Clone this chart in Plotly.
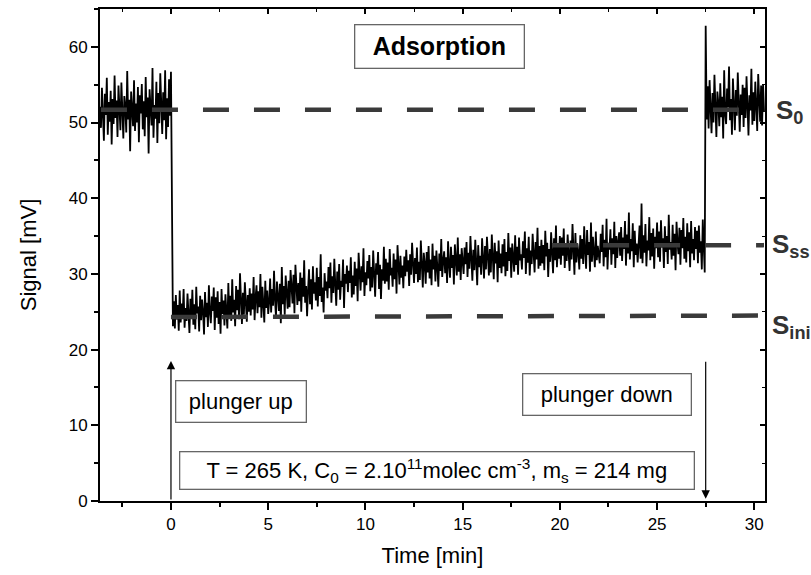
import plotly.graph_objects as go

# ---------------- data ----------------
t_start = -3.65          # min, first sample
dt = 0.05                # min, sampling step

signal_before = [
    52.1, 49.3, 54.6, 50.2, 47.6, 53.8, 51.0, 55.9, 48.4, 52.7, 50.1, 54.2, 47.1, 53.1, 49.8, 56.2, 50.6, 52.9, 48.1, 54.9,
    51.4, 49.0, 55.3, 50.8, 47.9, 53.5, 52.2, 48.7, 56.8, 50.4, 53.0, 46.2, 54.1, 51.7, 49.5, 55.6, 48.9, 52.5, 50.0, 54.7,
    47.4, 53.6, 51.2, 55.1, 49.1, 52.8, 48.2, 56.0, 50.7, 53.3, 45.9, 54.4, 51.9, 49.6, 57.2, 48.0, 52.3, 50.5, 55.4, 47.3,
    53.9, 49.9, 56.5, 51.1, 48.5, 54.0, 50.3, 56.9, 47.8, 53.2, 49.4, 55.7, 50.9, 56.7,
]

signal_exposed = [
    30.6, 23.1, 26.4, 22.8, 27.2, 24.0, 25.9, 22.5, 27.8, 23.6, 26.1, 24.4, 28.0, 22.9, 25.5, 23.8, 27.4, 24.6, 22.2, 26.7,
    24.1, 27.9, 23.3, 26.0, 22.7, 28.3, 24.8, 25.7, 22.4, 27.1, 23.9, 26.6, 25.0, 22.0, 27.6, 24.3, 26.2, 23.0, 28.5, 24.9,
    23.5, 27.0, 25.1, 28.2, 22.6, 26.9, 24.2, 27.7, 23.4, 26.3, 22.1, 28.0, 24.7, 26.5, 23.2, 27.3, 25.4, 22.8, 28.8, 24.5,
    27.1, 23.8, 29.3, 24.9, 26.6, 23.1, 28.4, 25.2, 27.9, 24.0, 30.1, 25.7, 23.4, 27.5, 24.6, 28.9, 25.9, 23.7, 27.2, 25.0,
    28.1, 24.5, 27.4, 25.3, 29.6, 23.9, 26.9, 28.5, 24.8, 27.7, 25.6, 30.0, 24.2, 28.3, 26.1, 23.6, 29.1, 25.5, 27.8, 24.7,
    26.3, 29.4, 24.9, 28.0, 25.8, 30.4, 26.6, 24.3, 29.0, 27.2, 25.1, 28.7, 23.5, 30.9, 26.0, 28.4, 24.6, 29.8, 27.5, 25.4,
    29.1, 25.6, 30.5, 27.3, 26.1, 29.9, 24.8, 31.2, 27.6, 25.9, 28.8, 26.4, 30.2, 25.0, 29.5, 27.0, 31.8, 26.2, 28.4, 24.4,
    27.9, 30.6, 26.0, 29.3, 25.3, 31.0, 27.4, 28.9, 26.5, 30.8, 25.7, 29.6, 27.1, 32.6, 26.3, 28.2, 24.9, 30.1, 27.8, 29.0,
    26.8, 30.9, 28.1, 31.5, 26.2, 29.7, 27.5, 32.0, 28.6, 25.8, 30.3, 27.9, 31.3, 26.6, 29.1, 28.3, 31.9, 25.5, 30.0, 28.7,
    31.1, 27.6, 30.4, 28.8, 32.2, 26.9, 29.8, 27.3, 31.6, 28.4, 30.7, 26.4, 32.8, 29.2, 27.8, 31.0, 28.9, 33.4, 27.1, 30.2,
    28.5, 31.7, 29.4, 32.5, 27.7, 30.9, 28.2, 33.1, 29.6, 27.0, 31.4, 29.9, 32.9, 28.0, 31.2, 26.7, 30.6, 29.1, 33.6, 28.7,
    32.0, 29.0, 31.5, 27.9, 33.3, 29.8, 30.8, 28.3, 32.7, 29.3, 31.9, 27.4, 33.8, 30.1, 28.6, 32.4, 29.5, 31.1, 28.1, 32.3,
    29.7, 33.2, 30.3, 31.8, 28.4, 32.6, 29.9, 34.1, 30.5, 28.8, 32.1, 30.0, 33.5, 28.9, 31.6, 29.2, 34.4, 30.7, 28.2, 32.8,
    31.4, 28.7, 32.9, 30.2, 33.7, 29.4, 31.9, 28.5, 34.0, 30.6, 32.4, 29.0, 33.1, 30.9, 28.3, 32.7, 30.4, 34.6, 29.6, 31.7,
    33.0, 30.1, 32.2, 28.8, 34.3, 31.2, 29.5, 33.6, 30.8, 32.5, 28.6, 33.9, 31.0, 29.8, 34.8, 30.3, 32.6, 29.2, 33.4, 31.5,
    30.0, 33.5, 31.3, 34.2, 29.6, 32.8, 30.7, 35.0, 31.8, 29.1, 33.2, 30.5, 34.5, 31.1, 28.5, 33.8, 30.9, 32.4, 29.9, 34.7,
    31.6, 29.4, 33.7, 30.6, 34.9, 31.9, 29.8, 33.3, 30.2, 35.2, 32.0, 29.3, 34.1, 31.4, 33.0, 28.9, 34.4, 30.8, 32.7, 30.1,
    33.9, 31.0, 34.6, 29.7, 32.9, 30.4, 35.4, 31.7, 33.5, 29.5, 34.0, 32.2, 30.3, 35.1, 31.2, 33.6, 29.9, 34.8, 31.8, 32.6,
    30.6, 34.3, 32.1, 35.6, 30.0, 33.4, 31.5, 34.9, 29.8, 33.1, 31.3, 35.3, 32.5, 30.2, 34.2, 31.9, 36.1, 30.7, 33.7, 31.1,
    34.5, 31.4, 33.8, 30.5, 35.7, 32.3, 34.1, 29.6, 33.3, 31.6, 35.5, 32.8, 30.1, 34.7, 31.8, 36.4, 30.9, 33.6, 32.0, 35.0,
    31.2, 34.8, 32.4, 36.0, 30.8, 33.9, 31.7, 35.2, 32.7, 30.4, 34.4, 31.9, 36.6, 32.2, 29.9, 35.4, 31.5, 34.0, 32.9, 30.6,
    35.1, 32.0, 34.6, 31.3, 36.3, 33.0, 30.7, 35.8, 32.5, 34.2, 30.3, 36.8, 31.6, 34.9, 32.8, 30.9, 35.6, 31.8, 33.7, 32.3,
    31.4, 35.3, 32.9, 36.5, 31.0, 34.5, 32.2, 37.3, 30.6, 34.1, 33.2, 35.9, 31.2, 34.7, 32.6, 36.9, 30.8, 35.0, 32.1, 34.3,
    35.5, 32.4, 36.2, 31.7, 34.8, 33.3, 37.0, 31.1, 35.2, 32.7, 38.1, 31.9, 34.6, 33.0, 36.7, 30.9, 35.7, 32.5, 34.0, 31.5,
    33.6, 36.4, 32.0, 39.3, 31.4, 35.1, 32.8, 36.6, 31.0, 34.4, 33.1, 37.5, 31.8, 35.4, 32.3, 36.0, 30.7, 34.9, 33.4, 36.8,
    32.2, 35.6, 31.6, 37.1, 33.5, 34.7, 30.8, 36.3, 32.9, 35.0, 31.3, 37.8, 33.2, 34.2, 31.9, 36.5, 32.4, 35.3, 30.5, 36.9,
    34.1, 32.6, 36.1, 31.2, 35.8, 33.4, 37.4, 32.0, 34.9, 31.5, 36.7, 33.0, 35.5, 30.9, 37.0, 32.7, 34.6, 31.8, 36.2, 33.3,
    35.7, 31.4, 36.4, 32.8, 34.3, 30.6, 37.2, 33.1, 30.2, 62.8,
]

signal_after = [
    50.4, 54.8, 49.2, 55.6, 51.3, 48.6, 53.9, 50.0, 56.3, 51.8, 48.1, 54.1, 52.6, 49.5, 55.2, 50.7, 53.4, 47.9, 56.9, 51.1,
    49.8, 54.5, 52.0, 57.4, 50.3, 53.1, 48.4, 55.8, 51.5, 49.0, 54.3, 50.9, 56.6, 52.4, 48.8, 53.7, 51.0, 55.0, 49.4, 54.6,
    50.6, 56.1, 52.8, 48.3, 53.6, 51.6, 57.1, 49.7, 54.0, 50.2, 55.4, 51.9, 48.9, 56.4, 52.7, 50.1, 54.9, 49.6, 55.1, 51.4,
]

signal = signal_before + signal_exposed + signal_after
time = [round(t_start + dt * i, 3) for i in range(len(signal))]

# reference levels (dashed lines)
s0_x, s0_y = [-3.6, 30.5], [51.7, 51.7]
sini_x, sini_y = [0.0, 30.5], [24.3, 24.5]
sss_x, sss_y = [19.6, 30.5], [33.8, 33.8]

x_range = [-3.65, 30.55]
y_range = [0, 65]

# ---------------- figure ----------------
FONT = "Liberation Sans, Arial, sans-serif"
DASH_COLOR = "#3a3a3a"
DASH = "26px,25px"

fig = go.Figure()
fig.add_trace(go.Scatter(x=time, y=signal, mode="lines",
                         line=dict(color="black", width=1.8), showlegend=False))
for xs, ys in [(s0_x, s0_y), (sini_x, sini_y), (sss_x, sss_y)]:
    fig.add_trace(go.Scatter(x=xs, y=ys, mode="lines",
                             line=dict(color=DASH_COLOR, width=4.5, dash=DASH),
                             showlegend=False))
# dummy trace for mirrored (inward-ticked) top/right axes
fig.add_trace(go.Scatter(x=[None], y=[None], xaxis="x2", yaxis="y2",
                         mode="lines", showlegend=False, hoverinfo="skip"))

axis_common = dict(showgrid=False, zeroline=False, showline=True,
                   linecolor="black", linewidth=2, tickcolor="black",
                   tickwidth=1.5)

fig.update_layout(
    width=811, height=575,
    margin=dict(l=100, r=46, t=9, b=74),
    plot_bgcolor="white", paper_bgcolor="white",
    font=dict(family=FONT, color="black", size=17),
    xaxis=dict(range=x_range, tick0=0, dtick=5, ticks="outside", ticklen=7,
               minor=dict(ticks="outside", ticklen=4, dtick=2.5, tick0=0,
                          tickcolor="black", tickwidth=1.5),
               title=dict(text="Time [min]", font=dict(size=22), standoff=14),
               tickfont=dict(size=17), **axis_common),
    yaxis=dict(range=y_range, tick0=0, dtick=10, ticks="outside", ticklen=7,
               minor=dict(ticks="outside", ticklen=4, dtick=5, tick0=0,
                          tickcolor="black", tickwidth=1.5),
               title=dict(text="Signal [mV]", font=dict(size=22), standoff=26),
               tickfont=dict(size=17), **axis_common),
    xaxis2=dict(range=x_range, overlaying="x", side="top", tick0=0, dtick=5,
                ticks="inside", ticklen=5, showticklabels=False,
                minor=dict(ticks="inside", ticklen=3, dtick=2.5, tick0=0,
                           tickcolor="black", tickwidth=1),
                **axis_common),
    yaxis2=dict(range=y_range, overlaying="y", side="right", tick0=0, dtick=10,
                ticks="inside", ticklen=5, showticklabels=False,
                minor=dict(ticks="inside", ticklen=3, dtick=5, tick0=0,
                           tickcolor="black", tickwidth=1),
                **axis_common),
)

box = dict(bordercolor="#666666", borderwidth=1.3, bgcolor="white",
           showarrow=False, xref="x", yref="y")

fig.add_annotation(x=13.8, y=60.1, text="<b>Adsorption</b>",
                   font=dict(size=25), width=166, height=40, **box)
fig.add_annotation(x=3.6, y=13.2, text="plunger up",
                   font=dict(size=22), width=127, height=38, **box)
fig.add_annotation(x=22.4, y=14.1, text="plunger down",
                   font=dict(size=22), width=165, height=38, **box)
fig.add_annotation(x=13.7, y=4.0,
                   text="T = 265 K, C<sub>0</sub> = 2.10<sup>11</sup>molec cm<sup>-3</sup>, m<sub>s</sub> = 214 mg",
                   font=dict(size=22), width=511, height=34, **box)

# arrows
fig.add_annotation(x=0, y=18.5, ax=0, ay=0, xref="x", yref="y", axref="x", ayref="y",
                   showarrow=True, arrowhead=2, arrowsize=1.4, arrowwidth=1.2,
                   arrowcolor="black", text="")
fig.add_annotation(x=27.5, y=0.3, ax=27.5, ay=18.6, xref="x", yref="y", axref="x", ayref="y",
                   showarrow=True, arrowhead=2, arrowsize=1.4, arrowwidth=1.2,
                   arrowcolor="black", text="")

# level labels
lab = dict(xref="x", yref="y", showarrow=False, xanchor="left",
           font=dict(size=26, color="#333333"))
fig.add_annotation(x=30.55, y=51.5, xshift=9, text="<b>S<sub>0</sub></b>", **lab)
fig.add_annotation(x=30.55, y=33.7, xshift=5, text="<b>S<sub>ss</sub></b>", **lab)
fig.add_annotation(x=30.55, y=23.0, xshift=5, text="<b>S<sub>ini</sub></b>", **lab)

fig.write_html("out.html", config={"displayModeBar": False},
               post_script="document.body.style.margin='0px';")
